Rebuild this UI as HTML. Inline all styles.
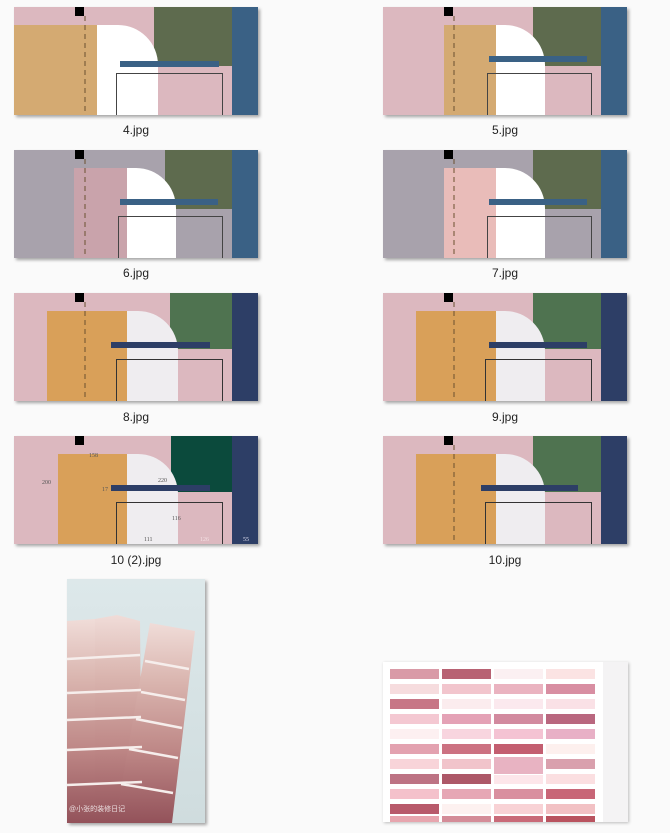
<!DOCTYPE html>
<html><head><meta charset="utf-8"><style>
html,body{margin:0;padding:0;background:#fafafa;width:670px;height:833px;overflow:hidden;position:relative;font-family:"Liberation Sans","Noto Sans CJK SC",sans-serif}
.t{position:absolute;width:244px;height:108px;box-shadow:2px 2px 3px rgba(0,0,0,.35)}
.l{position:absolute;width:244px;text-align:center;font-size:12px;color:#222}
svg{display:block}
</style></head><body>

<!-- 4 -->
<svg class="t" style="left:14px;top:7px" viewBox="0 0 244 108" width="244" height="108">
<rect width="244" height="108" fill="#dcb8bf"/><rect x="140" y="0" width="78" height="59" fill="#5e6b4e"/>
<rect x="0" y="18" width="83" height="90" fill="#d4aa72"/>
<path d="M83 108V18H104A40 40 0 0 1 144 58V108Z" fill="#fff"/>
<rect x="218" width="26" height="108" fill="#3a6185"/><rect x="106" y="54" width="99" height="6" fill="#3a6185"/>
<rect x="102.5" y="66.5" width="106" height="45" fill="none" stroke="#444"/><rect x="61" width="9" height="9" fill="#000"/>
<line x1="71" y1="9" x2="71" y2="108" stroke="#6a5030" stroke-dasharray="5 4"/></svg>
<div class="l" style="left:14px;top:123px">4.jpg</div>

<!-- 5 -->
<svg class="t" style="left:383px;top:7px" viewBox="0 0 244 108" width="244" height="108">
<rect width="244" height="108" fill="#dcb8bf"/><rect x="150" y="0" width="68" height="59" fill="#5e6b4e"/>
<rect x="61" y="18" width="52" height="90" fill="#d4aa72"/>
<path d="M113 108V18H122A40 40 0 0 1 162 58V108Z" fill="#fff"/>
<rect x="218" width="26" height="108" fill="#3a6185"/><rect x="106" y="49" width="98" height="6" fill="#3a6185"/>
<rect x="104.5" y="66.5" width="104" height="45" fill="none" stroke="#444"/><rect x="61" width="9" height="9" fill="#000"/>
<line x1="71" y1="9" x2="71" y2="108" stroke="#6a5030" stroke-dasharray="5 4"/></svg>
<div class="l" style="left:383px;top:123px">5.jpg</div>

<!-- 6 -->
<svg class="t" style="left:14px;top:150px" viewBox="0 0 244 108" width="244" height="108">
<rect width="244" height="108" fill="#a8a2ac"/><rect x="151" y="0" width="67" height="59" fill="#5e6b4e"/>
<rect x="60" y="18" width="53" height="90" fill="#c9a3ab"/>
<path d="M113 108V18H122A40 40 0 0 1 162 58V108Z" fill="#fff"/>
<rect x="218" width="26" height="108" fill="#3a6185"/><rect x="106" y="49" width="98" height="6" fill="#3a6185"/>
<rect x="104.5" y="66.5" width="104" height="45" fill="none" stroke="#444"/><rect x="61" width="9" height="9" fill="#000"/>
<line x1="71" y1="9" x2="71" y2="108" stroke="#6a5030" stroke-dasharray="5 4"/></svg>
<div class="l" style="left:14px;top:266px">6.jpg</div>

<!-- 7 -->
<svg class="t" style="left:383px;top:150px" viewBox="0 0 244 108" width="244" height="108">
<rect width="244" height="108" fill="#a8a2ac"/><rect x="150" y="0" width="68" height="59" fill="#5e6b4e"/>
<rect x="61" y="18" width="52" height="90" fill="#e9bcb9"/>
<path d="M113 108V18H122A40 40 0 0 1 162 58V108Z" fill="#fff"/>
<rect x="218" width="26" height="108" fill="#3a6185"/><rect x="106" y="49" width="98" height="6" fill="#3a6185"/>
<rect x="104.5" y="66.5" width="104" height="45" fill="none" stroke="#444"/><rect x="61" width="9" height="9" fill="#000"/>
<line x1="71" y1="9" x2="71" y2="108" stroke="#6a5030" stroke-dasharray="5 4"/></svg>
<div class="l" style="left:383px;top:266px">7.jpg</div>

<!-- 8 -->
<svg class="t" style="left:14px;top:293px" viewBox="0 0 244 108" width="244" height="108">
<rect width="244" height="108" fill="#dcb8bf"/><rect x="156" y="0" width="62" height="56" fill="#4f7350"/>
<rect x="33" y="18" width="80" height="90" fill="#d9a059"/>
<path d="M113 108V18H124A40 40 0 0 1 164 58V108Z" fill="#efedf0"/>
<rect x="218" width="26" height="108" fill="#2d3e66"/><rect x="97" y="49" width="99" height="6" fill="#2d3e66"/>
<rect x="102.5" y="66.5" width="106" height="45" fill="none" stroke="#333"/><rect x="61" width="9" height="9" fill="#000"/>
<line x1="71" y1="9" x2="71" y2="108" stroke="#6a5030" stroke-dasharray="5 4"/></svg>
<div class="l" style="left:14px;top:410px">8.jpg</div>

<!-- 9 -->
<svg class="t" style="left:383px;top:293px" viewBox="0 0 244 108" width="244" height="108">
<rect width="244" height="108" fill="#dcb8bf"/><rect x="150" y="0" width="68" height="56" fill="#4f7350"/>
<rect x="33" y="18" width="80" height="90" fill="#d9a059"/>
<path d="M113 108V18H122A40 40 0 0 1 162 58V108Z" fill="#efedf0"/>
<rect x="218" width="26" height="108" fill="#2d3e66"/><rect x="106" y="49" width="98" height="6" fill="#2d3e66"/>
<rect x="102.5" y="66.5" width="106" height="45" fill="none" stroke="#333"/><rect x="61" width="9" height="9" fill="#000"/>
<line x1="71" y1="9" x2="71" y2="108" stroke="#6a5030" stroke-dasharray="5 4"/></svg>
<div class="l" style="left:383px;top:410px">9.jpg</div>

<!-- 10 (2) -->
<svg class="t" style="left:14px;top:436px" viewBox="0 0 244 108" width="244" height="108">
<rect width="244" height="108" fill="#dcb8bf"/><rect x="157" y="0" width="61" height="56" fill="#0b4a3c"/>
<rect x="44" y="18" width="69" height="90" fill="#d9a059"/>
<path d="M113 108V18H124A40 40 0 0 1 164 58V108Z" fill="#efedf0"/>
<rect x="218" width="26" height="108" fill="#2d3e66"/><rect x="97" y="49" width="99" height="6" fill="#2d3e66"/>
<rect x="102.5" y="66.5" width="106" height="45" fill="none" stroke="#333"/><rect x="61" width="9" height="9" fill="#000"/>
<g font-family="Liberation Serif,serif" font-size="6" fill="#555">
<text x="75" y="21">158</text><text x="28" y="48">200</text><text x="144" y="46">220</text><text x="88" y="55">17</text>
<text x="158" y="84">116</text><text x="130" y="105">111</text><text x="186" y="105" fill="#f3e0e4">126</text><text x="229" y="105" fill="#dde">55</text></g></svg>
<div class="l" style="left:14px;top:553px">10 (2).jpg</div>

<!-- 10 -->
<svg class="t" style="left:383px;top:436px" viewBox="0 0 244 108" width="244" height="108">
<rect width="244" height="108" fill="#dcb8bf"/><rect x="150" y="0" width="68" height="56" fill="#4f7350"/>
<rect x="33" y="18" width="80" height="90" fill="#d9a059"/>
<path d="M113 108V18H122A40 40 0 0 1 162 58V108Z" fill="#efedf0"/>
<rect x="218" width="26" height="108" fill="#2d3e66"/><rect x="98" y="49" width="97" height="6" fill="#2d3e66"/>
<rect x="102.5" y="66.5" width="106" height="45" fill="none" stroke="#333"/><rect x="61" width="9" height="9" fill="#000"/>
<line x1="71" y1="9" x2="71" y2="108" stroke="#6a5030" stroke-dasharray="5 4"/></svg>
<div class="l" style="left:383px;top:553px">10.jpg</div>

<!-- photo -->
<svg class="t" style="left:67px;top:579px;width:138px;height:244px" viewBox="0 0 138 244" width="138" height="244">
<defs><linearGradient id="s" x1="0" y1="0" x2="0" y2="1">
<stop offset="0" stop-color="#f0dcd8"/><stop offset=".3" stop-color="#d9b4ae"/><stop offset=".65" stop-color="#bd8685"/><stop offset="1" stop-color="#93525a"/></linearGradient>
<linearGradient id="bg" x1="0" y1="0" x2="0" y2="1"><stop offset="0" stop-color="#dde8ea"/><stop offset="1" stop-color="#cfdcde"/></linearGradient></defs>
<rect width="138" height="244" fill="url(#bg)"/>
<polygon points="0,42 28,40 28,244 0,244" fill="url(#s)"/>
<polygon points="28,40 50,36 73,42 75,244 28,244" fill="url(#s)"/>
<polygon points="83,44 128,52 105,244 48,244" fill="url(#s)"/>
<g stroke="#f6eeec" stroke-width="2.5">
<line x1="0" y1="80" x2="73" y2="76"/><line x1="0" y1="114" x2="74" y2="111"/><line x1="0" y1="141" x2="74" y2="138"/><line x1="0" y1="171" x2="75" y2="168"/><line x1="0" y1="206" x2="75" y2="203"/>
<line x1="78" y1="82" x2="122" y2="90"/><line x1="74" y1="113" x2="118" y2="121"/><line x1="69" y1="140" x2="115" y2="149"/><line x1="62" y1="170" x2="111" y2="179"/><line x1="54" y1="205" x2="106" y2="214"/></g>
<text x="2" y="232" font-size="7" fill="#fff" opacity=".8">@小张的装修日记</text></svg>

<!-- palette -->
<svg class="t" style="left:383px;top:662px;width:245px;height:160px;box-shadow:1px 1px 3px rgba(0,0,0,.25)" viewBox="0 0 245 160" width="245" height="160">
<rect width="245" height="160" fill="#fff"/><rect x="220" width="25" height="160" fill="#f4f3f4"/>
<g>
<rect x="7" y="7" width="49" height="10" fill="#d99aa7"/><rect x="59" y="7" width="49" height="10" fill="#b86273"/><rect x="111" y="7" width="49" height="10" fill="#fbf0f2"/><rect x="163" y="7" width="49" height="10" fill="#fbe3e3"/>
<rect x="7" y="22" width="49" height="10" fill="#f6dcde"/><rect x="59" y="22" width="49" height="10" fill="#f2c5cd"/><rect x="111" y="22" width="49" height="10" fill="#eab3c0"/><rect x="163" y="22" width="49" height="10" fill="#d88ea2"/>
<rect x="7" y="37" width="49" height="10" fill="#c77686"/><rect x="59" y="37" width="49" height="10" fill="#fbecee"/><rect x="111" y="37" width="49" height="10" fill="#fbe9ee"/><rect x="163" y="37" width="49" height="10" fill="#fae1e6"/>
<rect x="7" y="52" width="49" height="10" fill="#f4c8d2"/><rect x="59" y="52" width="49" height="10" fill="#e4a2b6"/><rect x="111" y="52" width="49" height="10" fill="#d28a9f"/><rect x="163" y="52" width="49" height="10" fill="#b9677f"/>
<rect x="7" y="67" width="49" height="10" fill="#fdf0f1"/><rect x="59" y="67" width="49" height="10" fill="#f8d5df"/><rect x="111" y="67" width="49" height="10" fill="#f4c3d3"/><rect x="163" y="67" width="49" height="10" fill="#e8b0c6"/>
<rect x="7" y="82" width="49" height="10" fill="#e3a2b0"/><rect x="59" y="82" width="49" height="10" fill="#cc7282"/><rect x="111" y="82" width="49" height="10" fill="#c35e70"/><rect x="163" y="82" width="49" height="10" fill="#fdf0ee"/>
<rect x="7" y="97" width="49" height="10" fill="#f8d4d9"/><rect x="59" y="97" width="49" height="10" fill="#f1c4cb"/><rect x="111" y="95" width="49" height="17" fill="#e8b3c2"/><rect x="163" y="97" width="49" height="10" fill="#d9a0ad"/>
<rect x="7" y="112" width="49" height="10" fill="#bd7384"/><rect x="59" y="112" width="49" height="10" fill="#ad5868"/><rect x="111" y="113" width="49" height="9" fill="#fde6ea"/><rect x="163" y="112" width="49" height="10" fill="#fbdfe1"/>
<rect x="7" y="127" width="49" height="10" fill="#f4c1cb"/><rect x="59" y="127" width="49" height="10" fill="#e6a7b5"/><rect x="111" y="127" width="49" height="10" fill="#d98f9f"/><rect x="163" y="127" width="49" height="10" fill="#c86677"/>
<rect x="7" y="142" width="49" height="10" fill="#b85a6b"/><rect x="59" y="142" width="49" height="10" fill="#fdf1f0"/><rect x="111" y="142" width="49" height="10" fill="#f8d2d5"/><rect x="163" y="142" width="49" height="10" fill="#f2c1c4"/>
<rect x="7" y="154" width="49" height="6" fill="#e7a5ae"/><rect x="59" y="154" width="49" height="6" fill="#d48c98"/><rect x="111" y="154" width="49" height="6" fill="#c96a78"/><rect x="163" y="154" width="49" height="6" fill="#b9535f"/>
</g></svg>
</body></html>
